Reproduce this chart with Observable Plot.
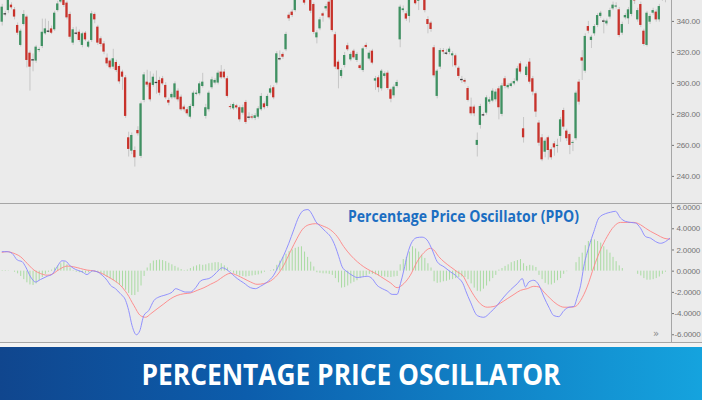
<!DOCTYPE html>
<html><head><meta charset="utf-8">
<script src="https://cdn.jsdelivr.net/npm/d3@7"></script>
<script src="https://cdn.jsdelivr.net/npm/@observablehq/plot@0.6"></script>
<style>
body{margin:0;background:#ebebeb;width:702px;height:400px;overflow:hidden;position:relative;font-family:"Liberation Sans",Arial,sans-serif}
#top svg,#bot svg{display:block}
</style></head><body>
<div id="top" style="height:203px;overflow:hidden"></div>
<div style="height:1px;background:#a6a6a6"></div>
<div id="bot" style="height:138px;overflow:hidden"></div>
<div style="height:1px;background:#a6a6a6"></div>
<div style="height:4px;background:#f3f3f3"></div>
<svg width="702" height="53" style="display:block">
<defs><linearGradient id="bg" x1="0" x2="1" y1="0" y2="0">
<stop offset="0" stop-color="#10468e"/><stop offset="0.35" stop-color="#0c5dac"/><stop offset="1" stop-color="#15a3de"/>
</linearGradient></defs>
<rect width="702" height="53" fill="url(#bg)"/>
<text id="bannerTitle" x="351" y="38" text-anchor="middle" textLength="419" lengthAdjust="spacingAndGlyphs" font-family="Open Sans" font-weight="bold" font-size="29" fill="#ffffff"></text>
</svg>
<svg style="position:absolute;left:0;top:204px" width="702" height="140">
<text id="ppoTitle" x="348" y="18" textLength="231" lengthAdjust="spacingAndGlyphs" font-family="Open Sans" font-weight="bold" font-size="15.5" fill="#1b6ec2"></text>
<text x="653" y="133" font-size="10" font-family="DejaVu Sans" fill="#8a8a8a">»</text>
</svg>
<script>
const chartTitle = "PERCENTAGE PRICE OSCILLATOR";
const panelTitle = "Percentage Price Oscillator (PPO)";
const priceTicks = [240, 260, 280, 300, 320, 340];
const ppoTicks = [-6, -4, -2, 0, 2, 4, 6];

const candleOpen = [339.5,344.9,347,350.5,347.5,337.4,324.5,338,342.8,319.5,315.2,314.4,321.2,323.8,332,333.7,335.2,334.6,347,352.5,
356,351.8,344.5,326,332.4,333,324.5,332.4,323.4,327.7,344.5,336.3,328.8,325.5,316.3,314.4,310.5,313.5,310.9,307.3,
303.6,264.9,256.3,256.7,269.6,252.9,289,300.8,300.2,298.7,300.6,301.9,303,298.7,289,290.7,290.7,295,291.1,284.7,
283,278.2,285.1,292.9,293.3,298,278.7,283,297.2,300.2,300.2,307.3,307.3,303,285,283.6,285.5,284.3,280.8,287.7,
278.2,278.4,277.4,278.2,283,286.8,285.1,293.7,297.2,300.2,315.9,318.7,321.7,344,346,347,355,355,355,356,
355,350.9,329.4,335.2,344.9,348.1,352.4,355,331.4,313.7,304.5,311.6,324.3,315.2,320.8,314.8,311.4,308.3,324.5,315.7,
320.8,301.5,303.6,296.5,304.5,306.6,295.9,292,298,328.1,347,344.9,343.2,355,355,353,355,355,341.2,338.9,
323,291.6,310.5,321.2,319.5,320,317.8,317.8,309.8,302.5,301.9,296.7,284.7,284.7,260,272.9,279.7,280.8,287.9,288.6,
289.4,296.5,280,303,297.2,298,299.7,301.5,312.6,270.7,305.1,313.7,303,293.3,274.4,264.9,255.6,264.9,257.2,261,
259.4,265.8,282.5,269.2,267,261.3,264.3,300.8,316.5,307.9,336.7,327.7,332,337.4,343.2,340.2,338.4,342.8,348.1,349.2,
347.5,332.4,342.3,341.7,344.5,354.5,341,350.9,333.7,324.5,339.5,345.3,346,341,354.5,357,355];
const candleClose = [349.2,344.9,353.5,348.8,342.8,332.4,333.7,344.5,314.8,310.5,315.2,323.4,321.9,333,335.2,333.7,332.4,345.3,351.3,353.5,
350.3,342.3,329.8,334.6,332.4,327.7,332,328.1,326.6,344.9,341,326,325.1,320.2,312.6,310.1,315.9,308.3,301,304,
278.7,257.4,266.4,252,267.5,286.8,305.5,298.9,289.4,304,300.6,293.7,299.7,290.7,287.3,292.9,299.7,289.4,283,283,
280.4,285.1,293.7,293.7,299.7,300.8,284.3,293.7,302.3,301.9,306.6,303.6,303.6,291.6,284.4,286.4,284.2,276.5,284.3,274.8,
278.2,277.6,279.1,283.6,291.6,284.3,291.6,296.5,290.7,319.1,315.9,316.9,331.6,341.7,343.8,353.5,355,358,351.8,359,
346.6,332.9,332.6,341,343.4,349.6,342.3,334.1,310.5,308.8,308.3,318,321.7,318.7,316.5,318.7,309.6,322.3,323.2,319.5,
313.1,303,297.2,307.9,306.2,296.7,289.8,297.6,300.6,349.2,348.1,341.5,353.5,358,351.4,354,358,347,338,334.8,
304.9,307.9,321.2,320.2,319.5,322.1,319.1,311.4,304.5,302.5,300.8,289,280.4,280.4,263.2,285.1,279.7,290.7,289.4,295,
294.4,284.3,298.4,298,298.7,299.7,301.2,309.4,307.3,264.9,310.5,300.8,294.4,281.5,261.4,250.7,262.7,256.7,252,258.4,
260,276.5,271.8,264.3,260,261.9,293.7,287.9,314.4,330.3,333.7,329.8,336.7,343.8,345.3,340.2,340.2,347,350.5,350,
330.9,338,343.8,347.5,353.5,353.2,347,337.4,325.1,345.3,343.2,347,341,349.6,357,355,358];
const candleHigh = [351,346.5,356,352,349,339,335,347,344,321,319,324.5,323,341.5,341.5,340,337,346.5,353,356,
358,353,346,336,336.3,334.5,333,333.5,327.5,346.5,345.5,337.5,330,327,319,315.5,322,315,312,308.5,
305,268.5,268,259,272,288,307,308.5,307.5,306,308,304,304.5,300.5,290.5,294,301,296.5,292.5,286,
284.5,286.5,295,295.5,301,306.5,286.5,295,304,303,308,311.5,309,304.5,286.5,287.5,286.5,285.5,286,289,
281,280,280.5,285,293.5,288,293,298.5,298.5,320.5,321,320,333,345.5,347.5,355,357,360,357,361,
357,352,334,342.5,346,351,354,357,333,315,309.5,320,326,320,322,320,312.5,323.5,326,321,
322,304.5,305,309,307.5,308,297,299,302,350.5,350,346.5,355,360,357,355.5,360,357,343,340,
324.5,309,322.5,322.5,322,323.5,320.5,319,311,304.5,303,298,290.5,286,268,286.5,281,292,291,296.5,
296,298,300,304.5,300,301,303,311,314,278,312,316,304.5,294.5,276,267,264,266,258.5,262.5,
264,278,284,270.5,268,263,295,302.5,321.2,332,340,331,338,345,346.5,341.5,341.5,348.5,352.5,352,
349,339.5,345,349,355,357,348.5,352.5,335,346.5,344.5,348.5,347.5,351,359,359,360];
const candleLow = [337,343,345,347.5,341,331,323.5,337,310,295,307.5,313,320,322.5,331,332.5,331.5,333.5,346,351.5,
349,341,328.5,324.5,331,326.5,323,327,322.5,326.5,338.5,324.5,323.5,318.5,311,309,309,307,299.5,295.5,
277.5,252.5,254,246,266,251.5,287.5,297.5,288,297.5,293,292,298.5,289.5,285.5,289.5,289.5,288,282,281.5,
279,277,284,292,292,297,277,281.5,296,299,299,302.5,302.5,290.5,283,282.5,283,275,279.5,273.5,
276,276.5,276,277,282,283,284,292.5,289.5,299,314.5,315.5,320.5,340,342.5,346,353.8,353.5,350.5,355,
345,331.5,325.5,334,339.5,346.5,341,333,309,296.5,303,310,320.5,314,315.5,313.5,308.5,307,322,314.5,
312,295.5,294,295,303,295.5,287.5,290.5,297,323,345.5,340,339,353.5,350.5,347,354,345.5,332,333,
303.5,290,309,318.5,318,318.5,310.5,310,303,300,299.5,288,279,278.5,252.5,270.5,278.5,279.5,286.5,287.5,
288,276.5,278.5,296.5,296,297,298.5,300.5,306,261.5,304,299.5,292,278,259.5,249.5,252,250.5,250.5,253,
255,262,270,262.5,254,256,263,286,301.9,306.5,332,322.5,330.5,336,342,332,337,341.5,347,348,
329.5,331,341,338,343,351,339.5,336,324,323.5,338,344,339.5,339.5,353,352,354];

const ppoX = [0,1.6,3.2,4.9,6.5,7.6,9.2,10.8,12.4,14.6,16.2,17.8,19.4,20.5,22.1,23.8,25.9,27.5,28.1,29.2,
30.8,32.4,34.0,35.1,36.7,38.3,40.0,41.0,42.1,43.5,44.6,45.9,47.5,49.2,50.8,52.4,53.5,55.1,56.2,57.8,
59.4,61.0,62.7,64.3,65.4,67.0,68.6,70.2,71.3,73.0,74.6,76.2,78.3,80.5,82.1,83.7,85.9,88.0,89.7,91.3,
92.9,94.5,96.2,97.8,99.1,100.5,101.6,103.2,104.8,106.4,108.0,109.1,110.2,111.8,113.4,115.1,116.7,118.3,119.9,121.5,
123.2,124.8,126.4,128.0,129.1,130.2,131.3,132.9,134.5,136.1,137.7,139.4,141.0,143.2,145.3,147.5,149.6,150.2,151.8,154.0,
156.1,158.3,160.4,162.6,164.8,167.0,168.6,169.6,170.7,172.3,174.0,175.6,177.2,178.8,180.4,182.1,183.7,185.3,186.4,187.5,
188.5,190.2,191.8,193.4,195.6,197.2,198.8,200.4,202.0,203.7,205.3,206.9,208.5,210.2,211.8,213.4,215.0,216.4];
const ppoV = [1.84,1.84,1.68,1.05,0.89,0.41,-0.54,-1.02,-0.79,-0.48,-0.29,0.41,0.98,0.95,0.48,0.16,-0.06,-0.32,-0.22,0.03,
-0.06,-0.38,-0.86,-1.33,-1.65,-2.13,-2.76,-3.71,-5.14,-6.0,-5.62,-4.19,-3.71,-2.76,-2.44,-2.29,-2.19,-1.97,-1.65,-1.81,
-1.97,-1.97,-1.56,-0.92,-0.79,-0.70,-0.38,0.10,0.32,0.10,-0.3,-0.7,-1.11,-1.56,-1.65,-1.43,-1.02,-0.38,0.57,1.52,
2.63,3.90,5.17,5.75,5.81,5.33,4.70,4.22,3.75,3.27,2.32,1.37,0.41,-0.06,-0.38,-0.60,-0.54,-0.48,-0.70,-1.33,
-1.65,-1.87,-2.19,-2.19,-1.17,0.10,1.52,2.79,3.17,3.21,2.95,2.0,0.89,0.41,-0.06,-0.54,-1.33,-1.81,-2.92,-4.19,
-4.35,-3.87,-3.24,-2.44,-1.75,-1.17,-0.70,-1.49,-1.02,-0.86,-1.33,-2.44,-3.40,-4.19,-4.29,-3.71,-3.40,-3.33,-2.44,-1.33,
0.41,2.32,3.75,5.02,5.43,5.56,5.65,5.02,4.70,4.60,4.54,4.06,3.27,3.11,2.79,2.63,2.79,3.11];

const signalX = [0,1.6,3.8,5.9,8.1,10.3,12.4,14.6,16.2,17.8,19.4,21.1,23.2,25.4,27.5,29.7,31.9,34.0,36.2,38.3,
40.5,42.7,44.8,46.5,48.1,50.2,52.4,54.6,56.7,58.9,61.0,63.2,65.4,67.5,69.7,71.8,74.0,76.2,78.3,80.5,
82.6,84.8,87.0,89.1,91.3,93.4,95.6,97.2,99.4,101.6,103.7,106.4,108.6,110.7,112.9,115.1,117.2,119.4,121.5,123.7,
125.9,128.0,130.2,132.3,134.5,136.7,138.8,139.9,141.5,143.2,145.3,147.5,149.6,150.7,152.9,155.0,157.2,159.4,161.5,163.7,
165.9,168.0,170.2,172.3,174.0,175.6,177.7,179.9,182.1,184.2,185.8,187.5,189.6,191.8,193.9,196.1,198.3,200.4,202.6,204.7,
206.9,208.5,210.2,212.3,214.5,216.4];
const signalV = [1.78,1.84,1.68,1.37,0.73,0.10,-0.22,-0.38,-0.29,0.03,0.32,0.48,0.41,0.25,0.10,0.03,-0.16,-0.48,-0.86,-1.33,
-2.13,-3.24,-4.19,-4.35,-4.03,-3.56,-3.08,-2.60,-2.29,-2.13,-2.06,-1.81,-1.56,-1.24,-0.92,-0.48,-0.2,-0.4,-0.70,-1.02,
-1.24,-1.17,-0.92,-0.38,0.57,1.84,3.11,3.90,4.38,4.48,4.29,3.90,3.27,2.32,1.52,0.89,0.41,0.03,-0.29,-0.70,
-1.11,-1.56,-1.17,-0.38,0.89,1.75,2.16,2.0,1.37,0.89,0.41,-0.06,-0.54,-1.17,-2.29,-3.08,-3.40,-3.33,-3.02,-2.60,
-2.19,-1.81,-1.65,-1.43,-1.49,-1.97,-2.60,-3.14,-3.40,-3.40,-3.33,-2.76,-1.49,0.41,2.0,3.27,4.22,4.60,4.60,4.60,
4.38,4.06,3.75,3.43,3.11,3.02];

const histValues = [0.05,0.05,0.03,0,-0.1,-0.25,-0.5,-0.8,-1.1,-1.3,-1.35,-1.2,-0.9,-0.6,-0.3,-0.1,0.1,0.3,0.5,0.7,
0.85,0.6,0.3,0.05,-0.1,-0.15,-0.2,-0.2,-0.15,-0.1,-0.1,-0.15,-0.25,-0.4,-0.6,-0.75,-0.9,-1.1,-1.3,-1.5,
-1.8,-2.1,-2.3,-2.3,-2.0,-1.4,-0.5,0.3,0.7,0.95,1.0,1.05,1.0,0.9,0.75,0.6,0.45,0.3,0.15,0.05,
0.1,0.25,0.4,0.5,0.6,0.55,0.6,0.7,0.75,0.8,0.8,0.7,0.5,0.3,0.05,-0.2,-0.35,-0.45,-0.5,-0.55,
-0.5,-0.45,-0.4,-0.35,-0.25,-0.1,0,0.05,0.15,0.55,0.95,1.3,1.6,1.85,2.0,2.15,2.25,2.3,1.8,1.3,
0.85,0.4,-0.15,-0.2,-0.25,-0.25,-0.3,-0.4,-0.7,-1.1,-1.6,-1.55,-1.4,-1.2,-1.05,-0.9,-0.7,-0.55,-0.45,-0.3,
-0.3,-0.35,-0.45,-0.5,-0.55,-0.6,-0.6,-0.55,-0.5,0.6,1.1,1.3,1.8,2.3,2.1,1.8,1.5,1.2,0.7,0.3,
-1.0,-1.15,-1.1,-1.0,-0.95,-0.85,-0.8,-0.7,-0.6,-0.55,-0.6,-0.8,-1.2,-1.6,-1.9,-1.95,-1.7,-1.4,-1.0,-0.7,
-0.4,0.1,0.25,0.45,0.6,0.8,0.9,1.0,1.1,0.7,0.45,0.55,0.5,0.35,-0.4,-0.8,-1.15,-1.3,-1.3,-1.15,
-0.9,-0.7,-0.3,-0.05,0,0,0.8,1.3,1.7,2.4,2.8,3.0,2.95,2.8,2.65,2.3,2.0,1.7,1.3,0.9,
0.5,0.25,0,0,0,0,-0.3,-0.45,-0.7,-0.85,-0.85,-0.8,-0.7,-0.55,-0.3,-0.1,0];

document.getElementById("bannerTitle").textContent = chartTitle;
document.getElementById("ppoTitle").textContent = panelTitle;

const idx = d3.range(candleOpen.length);
const candles = idx.map(i => ({i, o: candleOpen[i], c: candleClose[i], h: candleHigh[i], l: candleLow[i]}));
const hist = histValues.map((v, i) => ({i, v}));
const ppo = ppoX.map((x, k) => ({x, v: ppoV[k]}));
const signal = signalX.map((x, k) => ({x, v: signalV[k]}));

const xDomain = [-0.55, 216.95];
const priceDomain = [222.5, 353.5];
const ppoDomain = [-6.73, 6.29];
const GREEN = "#3f9162", RED = "#c8322b", DOJI = "#3a3a3a";
const bodyColor = d => d.c > d.o ? GREEN : (d.c < d.o ? RED : DOJI);
const common = {
  width: 702, marginTop: 0, marginBottom: 0, marginLeft: 0, marginRight: 31,
  style: {background: "transparent", fontFamily: "Liberation Sans, Arial, sans-serif", fontSize: "8px", letterSpacing: "-0.15px", overflow: "hidden"},
  color: {type: "identity"}
};

const topChart = Plot.plot({
  ...common, height: 203,
  x: {domain: xDomain, axis: null},
  y: {domain: priceDomain},
  marks: [
    Plot.ruleX(candles, {x: "i", y1: "l", y2: "h", stroke: "#c6c6c6", strokeWidth: 1, clip: true}),
    Plot.rect(candles.filter(d => d.o !== d.c), {x1: d => d.i - 0.37, x2: d => d.i + 0.37, y1: "o", y2: "c", fill: bodyColor, clip: true}),
    Plot.ruleY(candles.filter(d => d.o === d.c), {x1: d => d.i - 0.42, x2: d => d.i + 0.42, y: "o", stroke: DOJI, strokeWidth: 1.3, clip: true}),
    Plot.ruleX([xDomain[1]], {stroke: "#a6a6a6"}),
    Plot.axisY({anchor: "right", ticks: priceTicks, tickFormat: d => d.toFixed(2), tickSize: 2, tickPadding: 3, color: "#747474", label: null})
  ]
});
document.getElementById("top").append(topChart);

const botChart = Plot.plot({
  ...common, height: 138,
  x: {domain: xDomain, axis: null},
  y: {domain: ppoDomain},
  marks: [
    Plot.ruleX(hist, {x: "i", y1: 0, y2: "v", stroke: "#a9dba2", strokeWidth: 1}),
    Plot.line(signal, {x: "x", y: "v", stroke: "#ff8585", strokeWidth: 0.9, curve: "monotone-x"}),
    Plot.line(ppo, {x: "x", y: "v", stroke: "#8787ff", strokeWidth: 0.9, curve: "monotone-x"}),
    Plot.ruleX([xDomain[1]], {stroke: "#a6a6a6"}),
    Plot.axisY({anchor: "right", ticks: ppoTicks.filter(d => d >= 0), tickFormat: d => d.toFixed(4), tickSize: 2, tickPadding: 3, color: "#747474", label: null}),
    Plot.axisY({anchor: "right", ticks: ppoTicks.filter(d => d < 0), tickFormat: d => d.toFixed(4), tickSize: 2, tickPadding: 1, color: "#747474", label: null})
  ]
});
document.getElementById("bot").append(botChart);
</script>
</body></html>
